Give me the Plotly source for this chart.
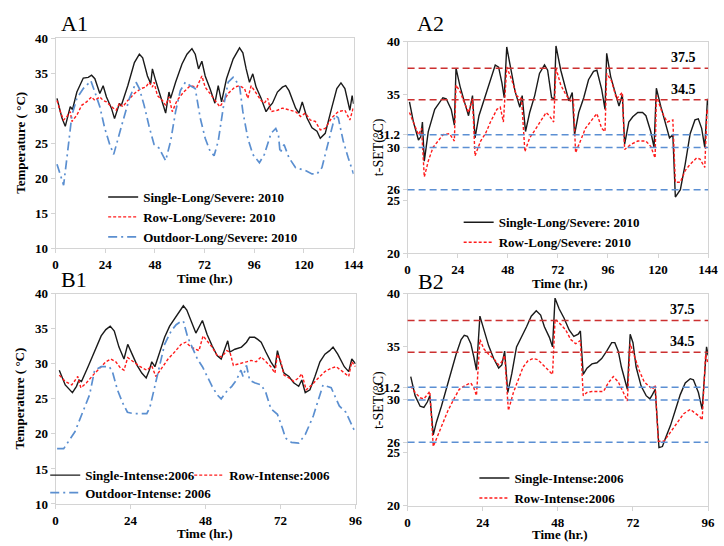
import plotly.graph_objects as go

# ---------------- data ----------------
hours_a = [0, 24, 48, 72, 96, 120, 144]
hours_b = [0, 24, 48, 72, 96]
temp_ticks = [10, 15, 20, 25, 30, 35, 40]
tset_ticks = [20, 25, 26, 30, 31.2, 35, 40]
tset_tick_text = ["20", "25", "26", "30", "31.2", "35", "40"]
red_thresholds = [37.5, 34.5]
blue_thresholds = [31.2, 30, 26]

a1_single_t = [0.7,3.1,4.7,6.3,7.1,8.2,10.3,13.4,15.8,17.4,19,21.4,23,24.6,27,28.5,30.1,30.9,31.7,34.9,38.1,40.5,42.1,44.4,46,46.8,48.4,50.8,53.2,54.8,55.6,58,61.1,63.5,65.9,67.5,69.1,70.7,72.3,74.6,77,78.6,80.2,82.6,85.8,88.9,90.5,92.1,93.7,95.3,96.9,99.3,101.7,103.3,104.8,107.2,109.6,111.2,112.8,116,117.6,119.2,121.5,123.9,126.3,127.9,130.3,133.4,135.9,137.9,139.8,142.2,143.3,144]
a1_single_v = [31.4,28.6,27.4,29.5,30.2,29.8,32.3,34.3,34.4,34.7,34.2,32.1,33.2,31.6,30.0,28.5,30.0,30.7,30.3,33.2,36.5,37.7,37.2,34.6,33.5,35.6,33.9,31.6,29.3,32.3,31.4,33.7,36.3,37.7,38.5,37.7,35.6,36.7,34.6,32.8,30.7,33.2,30.9,34.2,37.0,38.6,37.9,35.6,33.7,34.9,33.0,31.4,29.5,30.2,30.7,32.3,33.0,33.2,32.5,30.0,29.3,30.9,28.6,27.2,26.7,25.7,26.4,30.0,32.8,33.6,32.8,29.7,31.8,30.6]

a1_row_t = [0.7,2.3,3.9,5.5,7.1,7.9,10.3,12.6,15,17.4,19,21.4,23,24.6,27,29.3,30.9,32.5,34.9,38.1,41.3,43.6,45.2,46.8,47.6,49.2,51.6,53.2,54.8,56.4,58.7,61.9,65.1,68.3,70.7,72.3,74.6,77,79.4,81,83.4,86.6,88.9,91.3,92.9,94.5,96.9,99.3,100.9,102.5,104.1,107.2,109.6,112.8,116,118.4,120.7,123.1,125.5,127.9,130.3,133.4,136.6,139.8,142.2,144]
a1_row_v = [31.1,29.5,28.3,28.8,29.5,28.1,29.0,30.4,30.9,31.6,31.1,31.6,31.1,30.9,30.2,29.7,30.7,30.2,31.1,32.1,32.8,33.0,33.7,33.0,33.7,31.8,31.1,30.4,31.6,29.5,31.1,32.3,33.2,33.0,34.6,33.0,32.1,31.1,30.2,30.9,32.1,33.0,33.2,32.8,31.4,33.2,32.1,31.1,30.7,31.4,29.5,29.7,30.0,29.7,29.5,28.8,29.3,28.3,28.1,26.9,27.1,28.6,29.5,29.7,28.3,30.2]

a1_out_t = [0.7,2.3,3.9,5.5,7.9,10.3,13.4,15.8,17.1,19,21.4,23.8,26.2,28.1,30.1,32.5,35.7,38.9,40.5,42.8,45.2,47.6,50,53.2,55.6,58,60.3,62.7,65.1,67.5,69.9,72.3,74.6,76.6,78.6,81,83.4,85.8,88.9,90.5,92.9,95.3,98.5,100.9,104.1,106.4,107.7,108.5,110.4,112.8,116,120.7,123.9,126.3,128.7,131.9,135.1,136.6,139,141.4,144]
a1_out_v = [22.0,20.3,19.0,22.9,29.0,31.4,32.8,33.5,33.9,32.3,30.2,27.1,24.8,23.4,25.7,28.1,31.4,33.7,32.8,30.4,27.4,24.8,24.3,22.5,25.3,29.5,32.5,33.7,33.2,32.8,28.6,25.7,23.9,23.2,25.3,30.0,33.7,34.4,33.2,29.5,25.7,23.4,22.2,23.4,26.4,27.1,26.2,23.6,24.8,22.9,21.5,21.1,20.6,20.6,21.5,25.3,29.0,28.6,25.3,22.9,20.6]

a2_single_t = [0.9,2.8,5.2,6.3,7.1,8.0,9.9,13,16.9,18.5,20.9,22.4,23.2,25.1,27.1,29.2,31.1,32.3,34.2,36.5,39.7,42.0,43.6,45.2,46.3,47.5,49.1,51.5,53.8,54.9,56.5,58.5,60.9,63.2,65.6,67.1,69.0,70.3,71.1,73.4,75.8,77.3,78.9,80.0,82.0,84.4,86.7,89.1,90.7,93.0,94.6,95.4,97.3,99.3,101.3,102.9,104.0,106.0,107.9,110.3,112.6,114.2,116.5,118.1,119.2,121.3,123.6,125.5,127.1,128.3,130.7,133.0,135.4,137.7,139.3,140.9,142.4,143.7,144]
a2_single_v = [34.3,32.4,30.7,31.0,32.4,28.7,31.5,33.6,34.7,34.6,33.6,32.1,37.5,35.8,34.4,33.0,34.9,30.9,33.0,34.4,36.4,37.8,37.6,36.1,34.7,39.5,37.8,35.3,33.8,34.9,31.5,33.3,34.9,37.0,37.8,37.3,34.7,34.6,39.6,37.3,35.5,34.4,35.2,31.2,33.3,34.7,36.4,37.2,37.3,35.5,33.6,38.9,36.7,35.2,33.9,35.0,30.3,32.4,32.9,33.3,33.3,33.0,31.5,30.0,35.6,33.9,32.1,30.9,31.2,25.3,26.0,28.4,31.3,32.6,32.7,31.8,30.0,34.6,34.0]

a2_row_t = [0.9,2.8,5.2,6.7,8.0,9.9,12.2,14.6,16.9,20.1,22.4,23.2,25.1,27.1,29.2,31.1,32.3,35.0,37.3,39.7,42.8,44.4,45.9,47.5,49.9,52.2,54.6,56.2,58.5,60.9,64.0,66.4,67.9,70.0,71.1,73.4,75.8,78.1,79.4,80.5,82.8,85.2,88.3,90.7,93.0,94.6,95.4,97.7,100.1,102.9,104.0,107.1,110.3,114.2,116.5,118.6,119.2,122.0,124.4,127.1,128.3,130.7,133.0,135.4,138.5,140.1,142.4,143.5,144]
a2_row_v = [33.3,32.3,31.2,31.8,27.2,28.7,30.0,30.6,31.2,31.3,30.6,35.9,35.3,34.3,33.3,34.6,29.2,30.6,31.3,32.4,33.6,33.8,32.4,37.6,36.4,34.9,34.6,29.6,30.9,31.6,32.6,33.3,33.0,32.4,37.5,35.9,35.0,34.4,34.6,29.5,30.6,31.8,32.6,33.2,31.8,31.5,37.0,36.3,34.6,35.2,29.8,30.3,30.6,30.6,30.1,29.0,34.9,33.3,32.4,32.6,26.7,26.7,27.8,28.4,29.0,28.9,28.1,33.6,33.3]

b1_single_t = [1.2,3.1,5.4,6.7,7.5,8.3,10.4,12.5,14.6,16.1,17.5,18.8,20.3,21.9,23.1,24.5,26.1,27.6,29,30,30.8,31.8,33.4,34.9,36.5,38.1,39.7,40.9,42,43.3,44.9,47,48.5,50.1,51.7,53,55.1,55.8,57.4,59.5,61.1,62.1,63.7,64.7,65.8,67.3,68.9,70.2,71,72.1,73.1,74.7,76.2,77.8,78.8,79.9,81.4,83,84.6,86.2,87.7,88.8,90.3,92.4,93.8,94.8,96]
b1_single_v = [29.1,27.0,25.9,26.8,27.7,27.5,29.6,31.7,34.0,34.9,35.4,34.7,32.4,30.7,32.8,31.4,29.8,28.7,28.0,29.1,30.3,29.6,31.9,33.8,35.4,36.5,37.5,38.3,37.7,36.1,34.4,36.2,34.2,32.6,31.2,30.7,33.3,31.7,32.1,32.4,33.1,33.8,33.8,33.5,33.1,31.7,30.3,29.4,31.9,30.0,28.7,28.2,27.3,26.8,27.7,25.9,26.3,28.2,30.3,31.4,31.9,32.4,31.4,29.6,28.9,30.7,30.0]

b1_row_t = [1.2,3.1,5.2,7.1,8.1,9.9,12,14.1,16.1,17.7,19.3,20.8,21.9,23.1,25,27.1,29.2,30.8,32.1,33.9,36,38.1,40.2,41.7,43.3,44.9,45.9,47.2,48.5,50.1,51.7,53.2,54.8,55.8,56.9,59,61.1,62.6,64.2,65.8,67.3,68.9,70.2,71,72.1,73.1,74.7,76.2,77.8,78.8,80.2,82,84.1,86.2,88.2,89.8,91.9,93.8,94.8,96]
b1_row_v = [28.4,27.5,27.0,28.2,26.6,27.3,28.4,29.4,30.3,30.7,30.3,29.4,29.1,30.9,30.3,29.6,29.1,29.7,28.2,29.4,30.7,31.7,32.8,33.1,32.4,32.1,31.9,34.0,33.3,32.4,31.2,31.0,31.9,31.7,29.8,30.0,30.3,30.5,30.3,31.0,30.3,29.6,28.7,31.4,30.3,28.4,28.0,27.5,28.0,28.6,26.3,27.0,28.0,28.9,29.4,29.6,28.9,28.2,30.3,29.6]

b1_out_t = [0.5,2.6,6.2,8.8,10.9,12.5,14.6,17.2,18.2,19.8,21.4,23,25,27.1,29.2,30.2,31.8,33.4,34.9,37,38.6,40.2,40.9,42.3,43.8,45.4,47,48.5,50.1,51.7,53,54.8,56.4,57.9,59.3,60,61.1,62.1,63.7,65.8,67.3,68.9,71,72.6,73.6,75.5,77.8,79.9,82.5,85.6,87,88.2,90.8,92.9,95.5,96]
b1_out_v = [17.9,17.9,20.3,23.1,25.6,29.1,29.6,29.6,28.9,26.3,24.5,23.1,22.9,22.9,22.9,23.8,26.8,30.0,32.8,34.7,35.6,36.1,36.1,33.8,32.4,30.7,29.6,28.2,26.8,25.6,25.0,26.1,26.8,27.7,29.1,28.2,29.8,27.7,27.3,27.0,25.9,23.6,22.8,20.8,19.4,18.8,18.7,19.9,22.6,27.0,26.8,26.6,24.0,23.1,20.6,20.2]

b2_single_t = [1.0,2.4,4.0,5.2,6.3,7.1,8.2,9.2,10.8,12.3,13.9,15.5,17.1,18.1,19.1,20.2,21.2,22,23.1,24.4,25.9,27.5,29.1,30.1,31,32,33.3,34.8,36.4,38,39.5,41.1,42.5,43.7,45.3,46.3,47.1,48.4,50,51.6,53.1,54.5,55.2,56.1,57.3,58.9,60.5,62,63.6,65.2,66.2,67.3,68.3,69.4,70.2,71.1,72,73,74.6,76.2,77.4,78.2,79.1,80.3,81.4,82.4,84,85.6,87.1,88.7,90.3,91.3,92.9,94.1,95.5,96]
b2_single_v = [32.2,30.4,29.4,29.3,29.8,30.4,26.7,27.9,29.4,31.0,32.7,34.3,35.7,36.1,36.0,35.3,34.0,32.8,37.9,36.5,35.1,33.9,33.0,33.3,34.6,30.7,32.5,35.0,35.9,36.9,37.9,38.4,38.0,36.9,35.9,35.0,39.6,38.6,37.7,36.6,36.0,36.2,36.5,32.4,33.0,33.4,33.5,33.9,34.6,35.4,35.4,34.6,33.1,31.9,31.0,36.2,35.4,33.1,31.3,30.4,30.1,30.5,31.0,25.5,25.6,26.4,27.6,29.1,30.5,31.6,32.0,31.9,30.7,29.1,35.0,34.2]

b2_row_t = [1.0,2.4,4.0,5.2,6.3,7.1,8.2,9.7,11.3,12.9,15,16.5,18.6,20.2,21.2,22,23.1,24.4,25.9,27.5,29.1,30.1,31,32.2,33.8,35.4,36.9,38.5,40.1,41.6,43.2,44.8,46.3,47.1,49,50.5,52.1,53.7,55.2,56.1,57.3,58.9,61,62.6,64.1,65.7,67.3,68.8,70.2,71.1,72.5,74.1,75.6,77.2,78.2,79.1,80.1,81.9,84,86.1,88.2,90.3,91.8,93.4,94.1,95.2,96]
b2_row_v = [31.3,30.7,30.2,30.1,30.5,30.8,25.6,26.7,27.9,29.0,30.2,31.0,31.4,31.6,31.1,30.4,35.7,34.8,34.3,33.9,33.3,33.6,34.2,29.0,30.7,31.9,33.1,33.7,33.9,33.8,33.3,32.8,32.4,37.6,37.1,36.6,35.7,35.3,35.6,30.4,30.7,30.8,30.8,30.8,31.6,32.2,31.7,30.8,29.9,35.3,34.0,32.7,31.7,31.3,31.0,31.4,26.1,26.1,27.0,27.9,28.7,29.1,28.8,28.4,28.1,34.3,33.4]

# ---------------- styling ----------------
W, H = 724, 546
SERIF = "Liberation Serif"
BLACK = "#1a1a1a"
RED = "#ff1a1a"
BLUE = "#5b8fd0"
REF_RED = "#cc3030"
REF_BLUE = "#5b8fd3"
FRAME = "#d4d4d4"

def fx(px):
    return px / W

def fy(py):
    return 1 - py / H

panels = {
    "A1": dict(xa="xaxis", ya="yaxis", x="x", y="y", px=(53.5, 357), py=(32, 248)),
    "A2": dict(xa="xaxis2", ya="yaxis2", x="x2", y="y2", px=(412, 718), py=(35.7, 253)),
    "B1": dict(xa="xaxis3", ya="yaxis3", x="x3", y="y3", px=(53.5, 359), py=(295, 511)),
    "B2": dict(xa="xaxis4", ya="yaxis4", x="x4", y="y4", px=(412, 718), py=(295, 513)),
}

fig = go.Figure()

def add_line(t, v, name, color, dash, width, panel, legend):
    n = min(len(t), len(v))
    p = panels[panel]
    fig.add_trace(go.Scatter(
        x=t[:n], y=v[:n], mode="lines", name=name,
        line=dict(color=color, dash=dash, width=width),
        xaxis=p["x"], yaxis=p["y"], legend=legend,
    ))

SOLID = "solid"
DOT = "3px,2px"
DASHDOT = "9px,4px,2px,4px"

add_line(a1_single_t, a1_single_v, "Single-Long/Severe: 2010", BLACK, SOLID, 1.4, "A1", "legend")
add_line(a1_row_t, a1_row_v, "Row-Long/Severe: 2010", RED, DOT, 1.4, "A1", "legend")
add_line(a1_out_t, a1_out_v, "Outdoor-Long/Severe: 2010", BLUE, DASHDOT, 1.7, "A1", "legend")

add_line(a2_single_t, a2_single_v, "Single-Long/Severe: 2010", BLACK, SOLID, 1.4, "A2", "legend2")
add_line(a2_row_t, a2_row_v, "Row-Long/Severe: 2010", RED, DOT, 1.4, "A2", "legend2")

add_line(b1_single_t, b1_single_v, "Single-Intense:2006", BLACK, SOLID, 1.4, "B1", "legend3")
add_line(b1_row_t, b1_row_v, "Row-Intense:2006", RED, DOT, 1.4, "B1", "legend3")
add_line(b1_out_t, b1_out_v, "Outdoor-Intense: 2006", BLUE, DASHDOT, 1.7, "B1", "legend5")

add_line(b2_single_t, b2_single_v, "Single-Intense:2006", BLACK, SOLID, 1.4, "B2", "legend4")
add_line(b2_row_t, b2_row_v, "Row-Intense:2006", RED, DOT, 1.4, "B2", "legend4")

tick_font = dict(family=SERIF, size=13, color="black", weight="bold")
label_font = dict(family=SERIF, size=13, color="black", weight="bold")

layout = dict(
    width=W, height=H, margin=dict(l=0, r=0, t=0, b=0),
    paper_bgcolor="white", plot_bgcolor="white",
    showlegend=True,
)

for key, p in panels.items():
    is_a = key.startswith("A")
    is_set = key.endswith("2")
    xax = dict(
        domain=[fx(p["px"][0]), fx(p["px"][1])],
        range=[0, 144 if is_a else 96],
        tickvals=hours_a if is_a else hours_b,
        showgrid=False, zeroline=False,
        showline=True, mirror=True, linecolor=FRAME, linewidth=1,
        ticks="outside", ticklen=4, tickcolor=FRAME,
        tickfont=tick_font, anchor=p["y"],
    )
    yax = dict(
        domain=[fy(p["py"][1]), fy(p["py"][0])],
        range=[20, 40] if is_set else [10, 40],
        showgrid=False, zeroline=False,
        showline=True, mirror=True, linecolor=FRAME, linewidth=1,
        ticks="outside", ticklen=4, tickcolor=FRAME,
        tickfont=tick_font, anchor=p["x"],
    )
    if is_set:
        yax["tickvals"] = tset_ticks
        yax["ticktext"] = tset_tick_text
    else:
        yax["tickvals"] = temp_ticks
    layout[p["xa"]] = xax
    layout[p["ya"]] = yax

leg_common = dict(font=dict(family=SERIF, size=13, color="black", weight="bold"),
                  bgcolor="rgba(0,0,0,0)", borderwidth=0, tracegroupgap=0,
                  xanchor="left", yanchor="top")
layout["legend"] = dict(x=fx(102), y=fy(180), orientation="v", **leg_common)
layout["legend2"] = dict(x=fx(464), y=fy(206), orientation="v", **leg_common)
layout["legend3"] = dict(x=fx(43), y=fy(466), orientation="h", entrywidth=99, **leg_common)
layout["legend5"] = dict(x=fx(43), y=fy(484), orientation="h", **leg_common)
layout["legend4"] = dict(x=fx(480), y=fy(469), orientation="v", **leg_common)

fig.update_layout(**layout)

# reference lines on the t-SET panels
for key in ["A2", "B2"]:
    p = panels[key]
    for val in red_thresholds:
        fig.add_shape(type="line", xref=p["x"] + " domain", yref=p["y"],
                      x0=0, x1=1, y0=val, y1=val,
                      line=dict(color=REF_RED, width=1.5, dash="7px,4px"))
    for val in blue_thresholds:
        fig.add_shape(type="line", xref=p["x"] + " domain", yref=p["y"],
                      x0=0, x1=1, y0=val, y1=val,
                      line=dict(color=REF_BLUE, width=1.5, dash="7px,4px"))
    xmax = 144 if key == "A2" else 96
    for val in red_thresholds:
        fig.add_annotation(x=xmax * (0.917 if key == "A2" else 0.915), y=val, xref=p["x"], yref=p["y"],
                           text=str(val), showarrow=False, xanchor="center", yanchor="bottom", yshift=1,
                           font=dict(family=SERIF, size=14, color="black", weight="bold"))

def paper_text(px, py, text, font, angle=0, xanchor="center"):
    fig.add_annotation(x=fx(px), y=fy(py), xref="paper", yref="paper", text=text,
                       showarrow=False, xanchor=xanchor, yanchor="middle",
                       textangle=angle, font=font)

# panel letters
for key, (px, py) in {"A1": (57, 17), "A2": (420, 17), "B1": (57, 280), "B2": (421, 282)}.items():
    paper_text(px, py, key, dict(family=SERIF, size=22, color="black"), xanchor="left")

# axis titles
for (px, py) in [(17, 140), (17, 403)]:
    paper_text(px, py, "Temperature ( °C)", label_font, angle=-90)
for (px, py) in [(383, 144), (383, 404)]:
    paper_text(px, py, "t-SET(°C)", dict(family=SERIF, size=14, color="black"), angle=-90)
for (px, py) in [(206, 279), (567, 284), (206, 541), (567, 542)]:
    paper_text(px, py, "Time (hr.)", label_font)

# the page body gets no default margin so the figure sits at the window origin
fig.write_html("out.html", config={"displayModeBar": False},
               post_script="document.body.style.margin='0px';document.body.style.overflow='hidden';")
